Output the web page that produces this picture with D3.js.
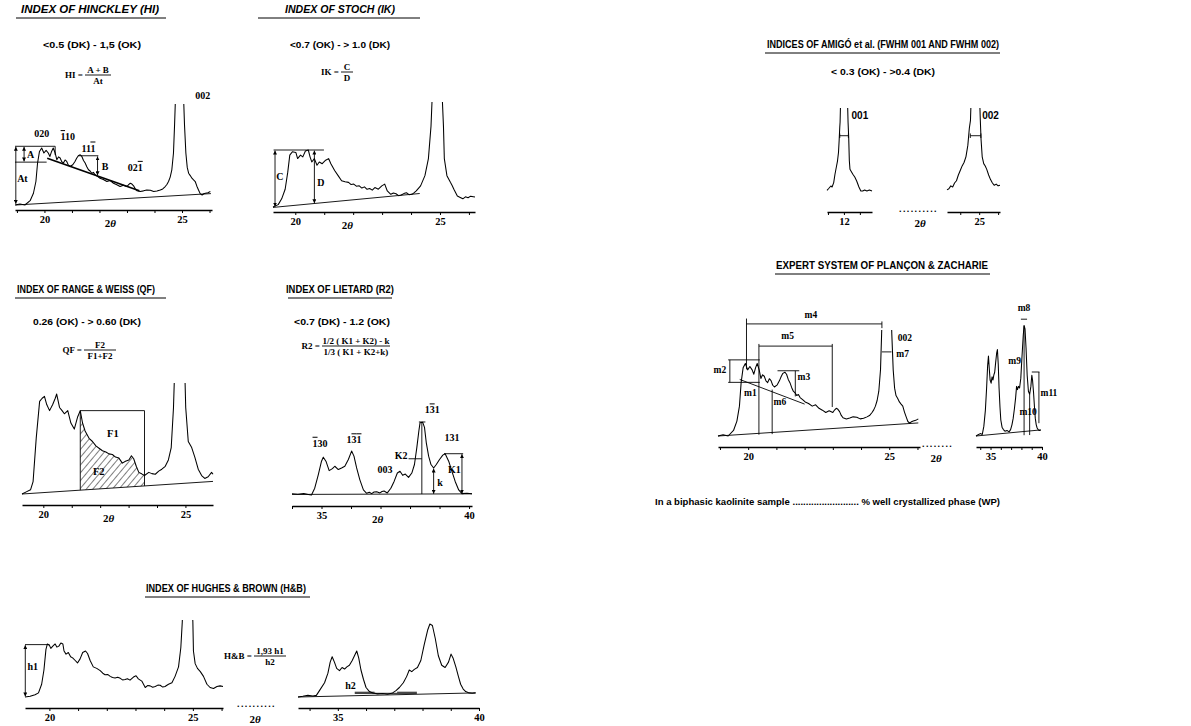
<!DOCTYPE html>
<html>
<head>
<meta charset="utf-8">
<script src="https://cdn.jsdelivr.net/npm/d3@7"></script>
<style>body{margin:0;background:#fff}</style>
</head>
<body>
<svg id="chart"></svg>
<script>
// --- traces: [2theta, intensity] ---
const orderedTrace = [[18.93,0],[19.11,0.9],[19.29,0],[19.48,3.8],[19.60,10.3],[19.69,20.6],[19.75,36.8],[19.82,47.0],[19.90,50.0],[19.98,45.6],[20.06,47.9],[20.14,45.6],[20.20,42.6],[20.26,47.0],[20.32,50.0],[20.39,45.6],[20.45,39.7],[20.51,42.2],[20.57,41.2],[20.63,38.0],[20.69,36.8],[20.75,39.5],[20.81,38.2],[20.87,35.0],[20.93,33.8],[21.03,35.3],[21.11,38.2],[21.17,41.0],[21.23,43.2],[21.30,44.0],[21.36,42.6],[21.42,39.0],[21.48,36.8],[21.54,33.5],[21.60,30.9],[21.66,29.8],[21.72,27.9],[21.78,28.6],[21.84,26.5],[21.93,25.1],[22.02,23.5],[22.14,22.4],[22.27,20.6],[22.39,21.5],[22.51,19.1],[22.63,17.8],[22.75,16.2],[22.87,17.4],[23.00,16.2],[23.06,17.9],[23.12,19.1],[23.18,18.4],[23.24,16.8],[23.30,14.2],[23.36,12.6],[23.48,11.8],[23.60,12.4],[23.72,13.2],[23.85,12.9],[23.97,11.8],[24.09,12.2],[24.21,13.2],[24.30,14.1],[24.39,16.2],[24.45,18.0],[24.51,20.6],[24.57,24.5],[24.63,30.9],[24.69,45.6],[24.73,70.6],[24.91,200],[25.09,70.6],[25.14,45.6],[25.19,33.0],[25.24,27.9],[25.30,25.8],[25.36,23.5],[25.42,22.0],[25.48,20.6],[25.54,16.5],[25.60,13.2],[25.66,10.0],[25.73,8.8],[25.79,9.9],[25.85,10.3],[25.94,10.8],[26.03,11.8]];

const stochTrace = [[19.23,0.9],[19.41,2.9],[19.53,7.9],[19.65,16.2],[19.74,30.9],[19.81,45.6],[19.90,48.5],[20.02,47.9],[20.08,42.6],[20.18,45.6],[20.26,44.1],[20.35,49.1],[20.45,50],[20.51,44.1],[20.57,39.7],[20.66,42.6],[20.75,36.8],[20.83,39.7],[20.93,38.2],[21.05,41.2],[21.15,42.6],[21.23,38.2],[21.36,32.3],[21.48,27.9],[21.60,23.5],[21.72,22.6],[21.84,22.1],[21.93,20.2],[22.02,20.6],[22.11,18.8],[22.21,19.1],[22.30,17.2],[22.39,18.2],[22.48,16.1],[22.57,16.8],[22.66,15.4],[22.75,17.6],[22.87,16.2],[22.99,19.1],[23.09,20.6],[23.18,14.7],[23.30,11.8],[23.39,12.9],[23.48,12.3],[23.57,10.6],[23.66,11.2],[23.75,12.4],[23.84,13.2],[23.93,11.5],[24.03,11.8],[24.10,13.0],[24.18,14.7],[24.33,19.1],[24.48,27.9],[24.60,42.6],[24.69,70.6],[24.90,200],[25.12,70.6],[25.15,42.6],[25.24,27.9],[25.30,25.0],[25.36,22.1],[25.42,19.4],[25.48,16.2],[25.60,10.3],[25.70,9.1],[25.79,7.9],[25.88,9.6],[25.97,8.8],[26.06,10.2],[26.15,9.7],[26.21,9.4]];

const rangeTrace = [[19.25,0],[19.40,1],[19.55,2],[19.64,5.9],[19.75,26.5],[19.87,44.1],[19.96,45.6],[20.04,46.5],[20.12,42.6],[20.22,39.7],[20.33,42.6],[20.42,45.6],[20.47,47.6],[20.57,41.2],[20.66,39.7],[20.74,38.2],[20.86,39.7],[20.97,33.8],[21.09,30.9],[21.21,36.8],[21.30,39.7],[21.38,33.8],[21.47,30.0],[21.61,26.5],[21.73,25.0],[21.85,22.9],[21.96,21.8],[22.08,20.6],[22.20,20.0],[22.31,19.1],[22.43,18.8],[22.54,17.6],[22.66,17.1],[22.78,14.7],[22.89,15.6],[23.01,16.2],[23.10,18.2],[23.18,16.8],[23.27,13.2],[23.36,10.3],[23.46,9.6],[23.56,8.8],[23.71,10.3],[23.82,9.7],[23.94,9.4],[24.06,10.9],[24.17,11.8],[24.29,13.2],[24.40,16.2],[24.50,22.1],[24.58,41.2],[24.64,67.6],[24.80,200],[24.96,67.6],[25.01,41.2],[25.10,25.0],[25.22,22.1],[25.33,17.6],[25.45,11.8],[25.57,8.8],[25.68,7.4],[25.80,8.2],[25.92,10.3],[25.97,9.4]];

const hbLowTrace = [[19.15,0],[19.33,0.6],[19.50,2.1],[19.62,3.8],[19.73,11.8],[19.81,25.0],[19.88,44.1],[19.93,49.1],[20.00,47.9],[20.05,45.0],[20.12,47.1],[20.20,49.1],[20.26,46.2],[20.33,47.1],[20.40,50],[20.47,49.1],[20.51,42.6],[20.58,39.7],[20.66,41.2],[20.74,37.3],[20.81,36.2],[20.90,33.8],[20.98,31.5],[21.07,35.3],[21.16,41.2],[21.26,42.6],[21.33,40.3],[21.42,33.8],[21.53,27.9],[21.65,26.5],[21.77,24.4],[21.86,22.0],[21.94,20.6],[22.03,20.9],[22.12,19.1],[22.20,18.0],[22.29,17.6],[22.38,18.2],[22.47,17.3],[22.55,15.8],[22.64,16.2],[22.72,16.9],[22.81,15.6],[22.93,18.5],[23.02,19.7],[23.10,16.8],[23.22,14.7],[23.34,8.8],[23.42,10.6],[23.51,10.3],[23.60,9.0],[23.69,9.7],[23.78,11.0],[23.86,10.9],[23.95,9.2],[24.03,9.7],[24.15,11.8],[24.27,13.2],[24.38,19.1],[24.50,27.9],[24.58,45.6],[24.63,69.1],[24.81,200],[25.00,69.1],[25.02,42.6],[25.08,30.9],[25.16,26.5],[25.26,23.5],[25.37,19.1],[25.49,11.8],[25.60,8.8],[25.72,7.9],[25.84,9.7],[25.95,10.3],[26.05,9.7]];

const highTrace = [[33.59,0],[33.76,0.6],[33.94,1.5],[34.12,0.9],[34.24,1.5],[34.35,5.9],[34.53,13.2],[34.65,22.1],[34.73,32.3],[34.80,37.3],[34.88,32.3],[34.96,26.5],[35.06,24.4],[35.15,27.3],[35.24,25.9],[35.32,27.9],[35.41,29.4],[35.51,33.8],[35.59,38.2],[35.67,42.6],[35.74,36.2],[35.82,25.0],[35.91,16.2],[36.00,8.8],[36.12,5.0],[36.24,3.8],[36.41,2.9],[36.59,3.2],[36.76,2.6],[36.94,3.8],[37.06,5.9],[37.18,8.8],[37.32,13.2],[37.44,19.1],[37.53,25.0],[37.62,23.5],[37.71,25.6],[37.82,27.3],[37.94,33.8],[38.06,48.5],[38.18,61.8],[38.26,67.6],[38.35,66.2],[38.45,54.4],[38.56,38.2],[38.68,29.4],[38.80,27.3],[38.92,32.3],[39.01,39.7],[39.08,36.2],[39.18,27.9],[39.27,19.1],[39.35,11.8],[39.44,7.4],[39.53,5.0],[39.65,3.8],[39.76,3.5],[39.88,3.8]];

const pzHighTrace = [[33.59,0],[33.8,0.8],[34.0,1.5],[34.2,1],[34.35,6],[34.5,16],[34.62,30],[34.72,44],[34.8,50],[34.88,42],[34.96,35],[35.06,33],[35.15,37],[35.24,35],[35.32,38],[35.41,40],[35.5,46],[35.6,52],[35.67,54],[35.75,45],[35.83,30],[35.92,18],[36.0,10],[36.12,5.5],[36.25,4],[36.4,3],[36.6,3.5],[36.8,2.6],[36.95,4],[37.08,7],[37.2,11],[37.32,17],[37.44,24],[37.53,31],[37.62,29],[37.71,31],[37.82,30],[37.94,36],[38.06,50],[38.18,63],[38.26,69],[38.35,67],[38.45,55],[38.56,38],[38.68,28],[38.8,26],[38.92,31],[39.01,38],[39.08,35],[39.18,27],[39.27,18],[39.35,11],[39.44,7],[39.53,5],[39.65,3.8],[39.76,3.5],[39.88,3.8]];

const lietardTrace = [[34.0,1],[34.2,0.6],[34.4,1.2],[34.55,0.5],[34.66,0],[34.77,5.9],[34.89,17.6],[35.00,29.4],[35.06,32.9],[35.15,29.4],[35.26,21.2],[35.37,22.9],[35.45,25.0],[35.57,22.1],[35.68,23.5],[35.79,25.0],[35.91,30.9],[36.02,38.2],[36.10,33.8],[36.19,23.5],[36.30,13.2],[36.42,4.4],[36.53,1.5],[36.62,2.4],[36.70,1.2],[36.78,2.6],[36.87,2.9],[36.98,1.8],[37.05,3.0],[37.12,3.5],[37.23,1.8],[37.35,5.9],[37.46,11.8],[37.57,19.1],[37.66,20.6],[37.75,17.1],[37.84,18.2],[37.95,15.3],[38.06,19.1],[38.15,26.5],[38.23,41.2],[38.30,55.9],[38.34,62.9],[38.43,63.2],[38.49,58.8],[38.55,45.6],[38.63,33.8],[38.71,26.5],[38.80,23.5],[38.89,26.5],[39.00,30.9],[39.11,34.7],[39.19,35.9],[39.31,29.4],[39.42,20.6],[39.53,11.8],[39.65,4.4],[39.76,1.2],[39.93,1.5],[40.1,1]];

const amigo001Trace = [[11.47,0.6],[11.53,2.4],[11.59,4.4],[11.63,3.5],[11.68,7.4],[11.72,14.7],[11.76,20.6],[11.80,26.5],[11.83,33.8],[11.85,44.1],[11.87,55.9],[11.88,60.3],[12.00,200],[12.13,60.3],[12.15,47.0],[12.17,26.5],[12.19,19.1],[12.23,17.1],[12.28,14.7],[12.34,12.3],[12.40,8.8],[12.47,3.5],[12.53,0],[12.59,0],[12.65,0.9],[12.72,0],[12.80,0.9],[12.88,0]];
const amigo002Trace = [[24.15,1],[24.2,2],[24.25,4.5],[24.3,3.5],[24.35,7],[24.4,9],[24.45,14],[24.5,18],[24.55,22],[24.6,25],[24.65,30],[24.7,40],[24.74,55],[24.77,62],[24.9,200],[25.03,62],[25.05,45],[25.08,30],[25.12,24],[25.16,22],[25.2,19],[25.25,14],[25.3,10],[25.35,7],[25.4,5],[25.45,6],[25.5,4.5],[25.55,5]];

// --- tick values / labels ---
const lowTicks = [19, 20, 21, 22, 23, 24, 25, 26];
const lowLabels = [20, 25];
const highTicks = [34, 35, 36, 37, 38, 39, 40];
const highLabels = [35, 40];

// --- annotations [2theta, intensity]; "_" puts a bar over the next digit ---
const hiLines = [
  [[18.95, 0], [26.05, 10]],
  [[18.93, 51.5], [20.39, 51.5], [20.39, 44]],
  [[18.93, 37.6], [20.08, 37.6]],
  [[21.23, 43.2], [21.96, 43.2]]
];
const hiTangent = [[20.1, 41], [23.45, 12.5]];
const hiArrows = [[[18.96, 1], [18.96, 51]], [[19.26, 51], [19.26, 38.2]], [[21.93, 42.6], [21.93, 26]]];
const hiLabels = [["020", 19.9, 63], ["_110", 20.85, 60], ["11_1", 21.6, 50], ["B", 22.2, 34], ["02_1", 23.3, 33], ["002", 25.75, 96], ["A", 19.5, 44.5], ["At", 19.2, 23]];

const ikLines = [[[19.23, 0.5], [24.3, 12.5]], [[19.25, 50], [20.99, 50]]];
const ikArrows = [[[19.3, 1.2], [19.3, 49.5]], [[20.66, 49.5], [20.66, 4.2]]];
const ikLabels = [["C", 19.47, 27], ["D", 20.88, 22]];

const qfBackground = [[19.25, 0], [25.97, 6]];
const qfBox = [21.30, 23.56, 39.7];
const qfLabels = [["F1", 22.45, 29], ["F2", 21.95, 11]];

const ltLines = [[[34.0, 0.5], [40.1, 1]], [[38.4, 0.8], [38.4, 63.5]], [[38.3, 63.5], [38.52, 63.5]], [[37.95, 31.5], [38.4, 31.5]], [[39.15, 35.9], [39.8, 35.9]]];
const ltArrows = [[[38.8, 1], [38.8, 23]], [[39.76, 35.5], [39.76, 1.2]]];
const ltLabels = [["_130", 34.95, 45], ["1_3_1", 36.1, 48], ["003", 37.15, 22], ["1_31", 38.75, 74], ["131", 39.42, 50], ["K2", 37.7, 34.5], ["k", 39.02, 11], ["K1", 39.5, 22]];

const hbLowLines = [[[19.15, 48.5], [20.0, 48.5]]];
const hbLowArrows = [[[19.16, 0.5], [19.16, 48]]];
const hbHighLines = [[[33.59, 0], [39.88, 3.8]], [[35.6, 3.4], [37.8, 3.4]], [[35.6, 4.4], [36.3, 4.4]], [[37.1, 4.4], [37.8, 4.4]]];

const amigoBar001 = [[11.87, 48.5], [12.14, 48.5]];
const amigoBar002 = [[24.765, 48.5], [25.045, 48.5]];

const pzLowLines = [
  [[18.93, 0], [26.03, 9]],
  [[19.94, 81], [19.94, 46]],
  [[19.94, 77.3], [24.74, 77.3]],
  [[24.74, 79], [24.74, 74.4]],
  [[20.38, 62], [22.98, 62]],
  [[20.38, 63.5], [20.38, 0.9]],
  [[22.98, 63.5], [22.98, 20]],
  [[19.29, 52.5], [20.41, 52.5]],
  [[19.29, 37], [20.41, 37]],
  [[19.35, 52.5], [19.35, 37]],
  [[21.04, 45], [21.81, 45]],
  [[21.67, 45], [21.67, 27.3]],
  [[20.85, 32], [20.85, 1.3]],
  [[19.7, 39], [22.0, 22]],
  [[24.74, 58], [25.08, 58]]
];
const pzLowLabels = [["m4", 22.22, 84, "middle"], ["m5", 21.4, 69, "middle"], ["m2", 19.22, 46, "end"], ["m3", 21.75, 41, "start"], ["m1", 20.3, 30, "end"], ["m6", 20.9, 24, "start"], ["m7", 25.25, 57, "start"], ["002", 25.3, 68, "start"]];
const pzHighLines = [[[33.59, 0], [39.88, 3.8]], [[38.26, 69], [38.26, 0.5]], [[37.95, 73], [38.55, 73]], [[38.8, 26], [38.8, 0.6]], [[39.01, 40], [39.75, 40]], [[39.7, 40], [39.7, 8]]];
const pzHighLabels = [["m8", 38.25, 80, "middle"], ["m9", 37.95, 47, "end"], ["m10", 38.65, 15, "middle"], ["m11", 39.85, 27, "start"]];

// --- setup ---
const SANS = "'Liberation Sans', Arial, sans-serif";
const SERIF = "'Liberation Serif', 'Times New Roman', serif";
const svg = d3.select("#chart").attr("width", 1191).attr("height", 726);
const defs = svg.append("defs");
defs.append("marker").attr("id", "arr").attr("viewBox", "0 0 6 6").attr("refX", 6).attr("refY", 3)
  .attr("markerUnits", "userSpaceOnUse").attr("markerWidth", 4).attr("markerHeight", 4)
  .attr("orient", "auto-start-reverse")
  .append("path").attr("d", "M0,0L6,3L0,6Z").attr("fill", "#000");
const hatch = defs.append("pattern").attr("id", "hatch").attr("patternUnits", "userSpaceOnUse")
  .attr("width", 5).attr("height", 5).attr("patternTransform", "rotate(40)");
hatch.append("line").attr("x1", 0).attr("y1", 0).attr("x2", 0).attr("y2", 5).attr("stroke", "#000").attr("stroke-width", 1);

let clipN = 0;
function panel(p) {
  const x = d3.scaleLinear().domain(p.domain).range(p.xr);
  const y = d3.scaleLinear().domain([0, 100]).range([p.base, p.base - 100 * p.k]);
  const id = "clip" + clipN++;
  defs.append("clipPath").attr("id", id).append("rect")
    .attr("x", p.xr[0] - 3).attr("y", p.clipY)
    .attr("width", p.xr[1] - p.xr[0] + 6).attr("height", p.axisY - p.clipY);
  const g = svg.append("g");
  g.append("path").datum(p.trace).attr("clip-path", `url(#${id})`)
    .attr("d", d3.line().x(d => x(d[0])).y(d => y(d[1])))
    .attr("fill", "none").attr("stroke", "#000").attr("stroke-width", 1.05).attr("stroke-linejoin", "round");
  const axis = d3.axisBottom(x).tickValues(p.ticks).tickSize(3).tickSizeOuter(0).tickPadding(3)
    .tickFormat(d => p.labels.includes(d) ? d : "");
  const ag = g.append("g").attr("transform", `translate(0,${p.axisY})`).call(axis);
  ag.select(".domain").attr("stroke-width", 1.6);
  ag.selectAll(".tick line").attr("stroke-width", 1);
  ag.selectAll(".tick text").attr("font-family", SERIF).attr("font-weight", "bold")
    .attr("font-size", 10.5).attr("fill", "#000");
  if (p.thetaAt != null) theta(g, x(p.thetaAt), p.axisY + 17);
  return { x, y, g };
}

function theta(g, cx, cy) {
  const t = g.append("text").attr("x", cx).attr("y", cy).attr("text-anchor", "middle")
    .attr("font-family", SERIF).attr("font-weight", "bold").attr("font-size", 11);
  t.append("tspan").text("2");
  t.append("tspan").attr("font-style", "italic").text("\u03b8");
}

function lines(p, list, w) {
  list.forEach(pts => p.g.append("path").datum(pts)
    .attr("d", d3.line().x(d => p.x(d[0])).y(d => p.y(d[1])))
    .attr("fill", "none").attr("stroke", "#000").attr("stroke-width", w || 0.9));
}
function arrows(p, list) {
  list.forEach(pts => p.g.append("path").datum(pts)
    .attr("d", d3.line().x(d => p.x(d[0])).y(d => p.y(d[1])))
    .attr("fill", "none").attr("stroke", "#000").attr("stroke-width", 0.9)
    .attr("marker-start", "url(#arr)").attr("marker-end", "url(#arr)"));
}
function labels(p, list, font, size, anchor) {
  list.forEach(d => {
    const t = p.g.append("text").attr("x", p.x(d[1])).attr("y", p.y(d[2]))
      .attr("dy", "0.35em").attr("text-anchor", d[3] || anchor || "middle")
      .attr("font-family", font).attr("font-weight", "bold").attr("font-size", size);
    const parts = d[0].match(/_?./g);
    parts.forEach(c => {
      const s = t.append("tspan").text(c.replace("_", ""));
      if (c[0] === "_") s.style("text-decoration", "overline");
    });
  });
}

function title(txt, cx, y, len, italic, u0, u1) {
  svg.append("text").attr("x", cx).attr("y", y).attr("text-anchor", "middle")
    .attr("font-family", SANS).attr("font-weight", "bold").attr("font-size", 10)
    .attr("font-style", italic ? "italic" : "normal")
    .attr("textLength", len).attr("lengthAdjust", "spacingAndGlyphs").text(txt);
  svg.append("line").attr("x1", u0).attr("x2", u1).attr("y1", y + 5).attr("y2", y + 5)
    .attr("stroke", "#000").attr("stroke-width", 1);
}
function sub(txt, cx, y, len) {
  svg.append("text").attr("x", cx).attr("y", y).attr("text-anchor", "middle")
    .attr("font-family", SANS).attr("font-weight", "bold").attr("font-size", 9.5)
    .attr("textLength", len).attr("lengthAdjust", "spacingAndGlyphs").text(txt);
}
function formula(lhs, num, den, cx, cy, w) {
  const f = svg.append("g").attr("font-family", SERIF).attr("font-weight", "bold").attr("font-size", 9);
  f.append("text").attr("x", cx - w / 2 - 2).attr("y", cy + 3).attr("text-anchor", "end").text(lhs + " =");
  f.append("text").attr("x", cx).attr("y", cy - 2.5).attr("text-anchor", "middle").text(num);
  f.append("text").attr("x", cx).attr("y", cy + 9).attr("text-anchor", "middle").text(den);
  f.append("line").attr("x1", cx - w / 2).attr("x2", cx + w / 2).attr("y1", cy).attr("y2", cy)
    .attr("stroke", "#000").attr("stroke-width", 0.9);
}
function dots(x0, y, n) {
  svg.append("text").attr("x", x0).attr("y", y).attr("font-family", SANS).attr("font-weight", "bold")
    .attr("font-size", 9).attr("letter-spacing", 1.4).text(".".repeat(n));
}

// --- Hinckley ---
title("INDEX OF HINCKLEY (HI)", 90, 13, 138, true, 16, 166);
sub("<0.5 (DK) - 1,5 (OK)", 92, 48, 98);
formula("HI", "A + B", "At", 98, 75, 26);
const hi = panel({ trace: orderedTrace, domain: [18.93, 26.09], xr: [15, 212], base: 205, k: 1.14, clipY: 104, axisY: 210, ticks: lowTicks, labels: lowLabels, thetaAt: 22.4 });
lines(hi, hiLines);
lines(hi, [hiTangent], 1.8);
arrows(hi, hiArrows);
labels(hi, hiLabels, SERIF, 10);

// --- Stoch ---
title("INDEX OF STOCH (IK)", 340, 13, 110, true, 258, 420);
sub("<0.7 (OK) - > 1.0 (DK)", 340, 48, 100);
formula("IK", "C", "D", 347, 72, 12);
const ik = panel({ trace: stochTrace, domain: [19.23, 26.21], xr: [273, 475], base: 208, k: 1.16, clipY: 102, axisY: 212, ticks: lowTicks.slice(1), labels: lowLabels, thetaAt: 21.8 });
lines(ik, ikLines);
arrows(ik, ikArrows);
labels(ik, ikLabels, SERIF, 10);

// --- Range & Weiss ---
title("INDEX OF RANGE & WEISS (QF)", 86, 293, 138, false, 15, 166);
sub("0.26 (OK) - > 0.60 (DK)", 87, 325, 108);
formula("QF", "F2", "F1+F2", 100, 350, 32);
const qf = panel({ trace: rangeTrace, domain: [19.25, 25.97], xr: [22, 213], base: 494, k: 2.1, clipY: 383, axisY: 505, ticks: lowTicks.slice(1, 7), labels: lowLabels, thetaAt: 22.3 });
const qfBg = d3.scaleLinear().domain(qfBackground.map(d => d[0])).range(qfBackground.map(d => d[1]));
const f2Area = rangeTrace.filter(d => d[0] >= qfBox[0] && d[0] <= qfBox[1])
  .concat([[qfBox[1], qfBg(qfBox[1])], [qfBox[0], qfBg(qfBox[0])]]);
qf.g.append("path").attr("d", d3.line().x(d => qf.x(d[0])).y(d => qf.y(d[1]))(f2Area) + "Z")
  .attr("fill", "url(#hatch)").attr("stroke", "none");
lines(qf, [qfBackground,
  [[qfBox[0], qfBg(qfBox[0])], [qfBox[0], qfBox[2]], [qfBox[1], qfBox[2]], [qfBox[1], qfBg(qfBox[1])]]]);
labels(qf, qfLabels, SERIF, 10.5);

// --- Lietard ---
title("INDEX OF LIETARD (R2)", 340, 293, 108, false, 288, 392);
sub("<0.7 (DK) - 1.2 (OK)", 342, 325, 96);
formula("R2", "1/2 ( K1 + K2) - k", "1/3 ( K1 + K2+k)", 356, 346, 68);
const lt = panel({ trace: lietardTrace, domain: [34.0, 40.1], xr: [292, 472], base: 495, k: 1.15, clipY: 380, axisY: 506, ticks: highTicks, labels: highLabels, thetaAt: 36.9 });
lines(lt, ltLines);
arrows(lt, ltArrows);
labels(lt, ltLabels, SERIF, 10);

// --- Hughes & Brown ---
title("INDEX OF HUGHES & BROWN (H&B)", 226, 592, 160, false, 145, 310);
formula("H&B", "1,93 h1", "h2", 270, 656, 32);
const hbL = panel({ trace: hbLowTrace, domain: [19.15, 26.05], xr: [25, 223], base: 697, k: 1.08, clipY: 620, axisY: 708, ticks: lowTicks.slice(1), labels: lowLabels });
lines(hbL, hbLowLines);
arrows(hbL, hbLowArrows);
labels(hbL, [["h1", 19.42, 28]], SERIF, 10);
const hbH = panel({ trace: highTrace, domain: [33.59, 40], xr: [298, 479], base: 697, k: 1.08, clipY: 600, axisY: 708, ticks: highTicks, labels: highLabels });
lines(hbH, hbHighLines);
labels(hbH, [["h2", 35.45, 11]], SERIF, 10);
dots(237, 707, 10);
theta(svg, 255, 723);

// --- Amigo ---
title("INDICES OF AMIG\u00d3 et al. (FWHM 001 AND FWHM 002)", 883, 48, 232, false, 765, 1000);
sub("< 0.3 (OK) - >0.4 (DK)", 883, 75, 104);
const am1 = panel({ trace: amigo001Trace, domain: [11.47, 12.88], xr: [827, 872], base: 191, k: 1.14, clipY: 108, axisY: 212, ticks: [11.5, 12, 12.5], labels: [12] });
lines(am1, [amigoBar001, [[11.87, 46.5], [11.87, 50.5]], [[12.14, 46.5], [12.14, 50.5]]]);
labels(am1, [["001", 12.5, 66]], SANS, 10);
const am2 = panel({ trace: amigo002Trace, domain: [24.15, 25.55], xr: [947, 1000], base: 191, k: 1.14, clipY: 108, axisY: 212, ticks: [24.5, 25, 25.5], labels: [25] });
lines(am2, [amigoBar002, [[24.765, 46.5], [24.765, 50.5]], [[25.045, 46.5], [25.045, 50.5]]]);
labels(am2, [["002", 25.3, 66]], SANS, 10);
dots(899, 212, 10);
theta(svg, 920, 227);

// --- Plancon & Zacharie ---
title("EXPERT SYSTEM OF PLAN\u00c7ON & ZACHARIE", 882, 269, 212, false, 775, 990);
const pzL = panel({ trace: orderedTrace, domain: [18.93, 26.09], xr: [718, 920], base: 436, k: 1.45, clipY: 330, axisY: 447, ticks: lowTicks, labels: lowLabels });
lines(pzL, pzLowLines);
labels(pzL, pzLowLabels, SERIF, 9.5);
const pzH = panel({ trace: pzHighTrace, domain: [33.59, 40], xr: [976, 1042], base: 436, k: 1.6, clipY: 300, axisY: 447, ticks: highTicks, labels: highLabels });
lines(pzH, pzHighLines);
labels(pzH, pzHighLabels, SERIF, 9.5);
dots(922, 447, 8);
theta(svg, 936, 462);

svg.append("text").attr("x", 655).attr("y", 505).attr("font-family", SANS).attr("font-weight", "bold")
  .attr("font-size", 9.5).attr("textLength", 345).attr("lengthAdjust", "spacingAndGlyphs")
  .text("In a biphasic kaolinite sample ......................... % well crystallized phase (WP)");
</script>
</body>
</html>
